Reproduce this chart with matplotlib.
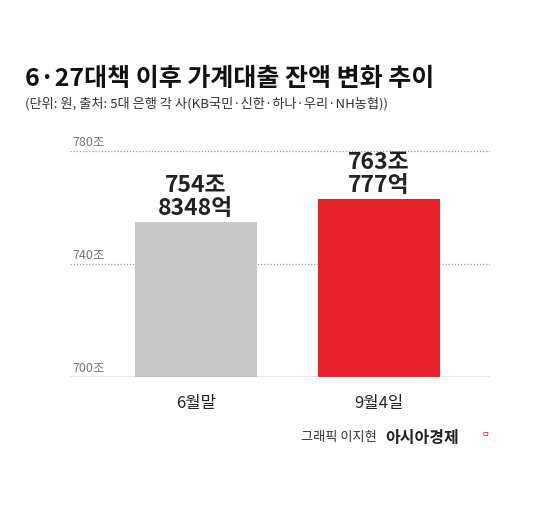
import matplotlib
matplotlib.use("Agg")
import matplotlib.pyplot as plt

plt.rcParams['font.family'] = ['Noto Sans CJK KR', 'DejaVu Sans']

categories = ["6월말", "9월4일"]
values = [754.8348, 763.0777]
value_labels = ["754조\n8348억", "763조\n777억"]
colors = ["#c8c8c8", "#e8202a"]
yticks = [700, 740, 780]
ytick_labels = ["700조", "740조", "780조"]

fig = plt.figure(figsize=(5.5, 5.1), dpi=100)
fig.patch.set_facecolor("white")
ax = fig.add_axes([0.127, 0.259, 0.764, 0.443])
x = list(range(len(categories)))
ax.bar(x, [v - 700 for v in values], bottom=700, width=0.67, color=colors, zorder=2)
ax.set_ylim(700, 780)
ax.set_xlim(-0.689, 1.607)
for t in yticks[1:]:
    ax.axhline(t, color="#999999", lw=0.9, ls=(0, (1, 1.5)), zorder=1)
for t, lab in zip(yticks, ytick_labels):
    ax.text(0.005, t + 1.2, lab, transform=ax.get_yaxis_transform(), fontsize=9,
            color="#777777", ha="left", va="bottom")
ax.axhline(700, color="#888888", lw=1.0, zorder=3)
for xi, v, lab in zip(x, values, value_labels):
    ax.text(xi, v + 1.0, lab, ha="center", va="bottom", fontsize=16.5,
            fontweight="bold", color="#222222", linespacing=1.0)
ax.set_xticks(x)
ax.set_xticklabels(categories, fontsize=12, color="#222222")
ax.tick_params(axis="x", length=0, pad=12)
ax.set_yticks([])
for s in ax.spines.values():
    s.set_visible(False)

fig.text(0.045, 0.845, "6·27대책 이후 가계대출 잔액 변화 추이", fontsize=18,
         fontweight="bold", color="#111111", ha="left", va="center")
fig.text(0.045, 0.797, "(단위: 원, 출처: 5대 은행 각 사(KB국민·신한·하나·우리·NH농협))",
         fontsize=9.5, color="#333333", ha="left", va="center")
fig.text(0.685, 0.142, "그래픽 이지현", fontsize=9.5, color="#333333", ha="right", va="center")
fig.text(0.7, 0.142, "아시아경제", fontsize=11.5, fontweight="bold", color="#222222",
         ha="left", va="center")
fig.text(0.875, 0.15, "ㅁ", fontsize=6, color="#e8202a", ha="left", va="center")

fig.savefig("out.png", dpi=100, facecolor="white")
